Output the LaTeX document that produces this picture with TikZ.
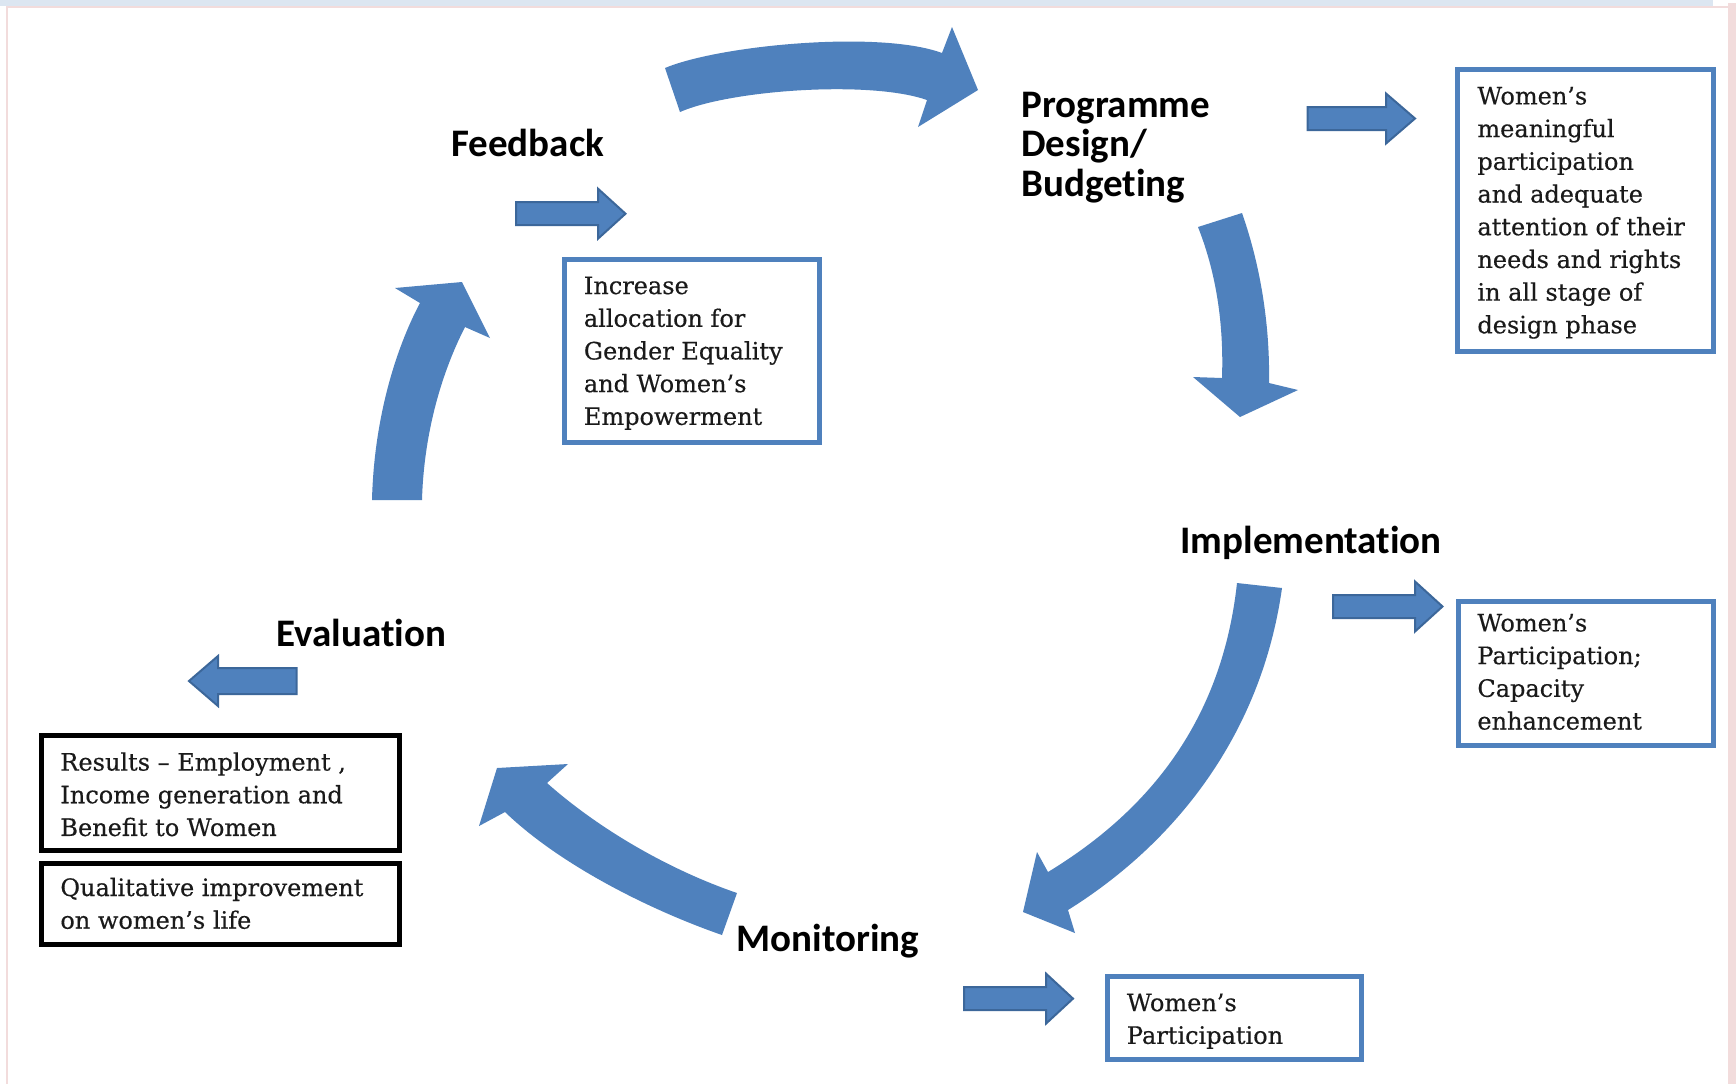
\documentclass[tikz,border=0pt]{standalone}
\usepackage{fontspec}
\setmainfont[FakeBold=0.4]{DejaVu Serif}
\newfontfamily\headfont[Ligatures=NoCommon]{Carlito}
\definecolor{arrowblue}{HTML}{4F81BD}
\definecolor{arrowedge}{HTML}{3C679A}
\definecolor{boxblue}{HTML}{4F81BD}
\definecolor{textdark}{HTML}{1A1A1A}
\definecolor{stripblue}{HTML}{DCE6F1}
\definecolor{framepink}{HTML}{F2DCDC}
% straight block arrows: tail x, tip x, head-base x, centre y
\newcommand\rightblock[4]{%
  \draw[blockarrow] (#1,#4-11.5) -- (#3,#4-11.5) -- (#3,#4-25) -- (#2,#4)
    -- (#3,#4+25) -- (#3,#4+11.5) -- (#1,#4+11.5) -- cycle;}
% tip x, tail x, head-base x, centre y
\newcommand\leftblock[4]{%
  \draw[blockarrow] (#2,#4-13) -- (#3,#4-13) -- (#3,#4-25) -- (#1,#4)
    -- (#3,#4+25) -- (#3,#4+13) -- (#2,#4+13) -- cycle;}
\begin{document}
\begin{tikzpicture}[x=0.5pt,y=-0.5pt,
  cyclearrow/.style={fill=arrowblue},
  blockarrow/.style={fill=arrowblue, draw=arrowedge, line width=1pt, line join=miter},
  bluebox/.style={rectangle, draw=boxblue, line width=2.5pt, fill=white, inner sep=0pt},
  blackbox/.style={rectangle, draw=black, line width=2.5pt, fill=white, inner sep=0pt},
  boxtext/.style={font=\fontsize{12pt}{16.35pt}\selectfont, align=left, inner sep=0pt, anchor=west, text=textdark},
  stage/.style={font=\headfont\bfseries\fontsize{19.5pt}{19.65pt}\selectfont, inner sep=0pt, align=left, text=black}
]
\useasboundingbox (0,0) rectangle (1736,1084);
% page frame
\fill[white] (0,0) rectangle (1736,1084);
\fill[stripblue] (0,0) rectangle (1713,6);
\fill[framepink] (6,6) rectangle (1736,8);
\fill[framepink] (6,6) rectangle (8,1084);
\fill[framepink] (1728,3) rectangle (1736,1084);

% stage labels
\node[stage, anchor=base west] (feedback) at (451,156) {Feedback};
\node[stage, anchor=west] (design) at (1021,147.5) {Programme\\Design/\\Budgeting};
\node[stage, anchor=base west] (implementation) at (1180,553) {Implementation};
\node[stage, anchor=base west] (evaluation) at (276,646) {Evaluation};
\node[stage, anchor=base west] (monitoring) at (736,951) {Monitoring};

% outcome boxes
\node[bluebox, minimum width=127.85pt, minimum height=140.85pt] (b1) at (1585.35,210.65) {};
\node[boxtext] (t1) at (1477,212.8) {Women’s\\meaningful\\participation\\and adequate\\attention of their\\needs and rights\\in all stage of\\design phase};
\node[bluebox, minimum width=127.5pt, minimum height=91.35pt] (b2) at (691.7,351.15) {};
\node[boxtext] (t2) at (583.5,353.2) {Increase\\allocation for\\Gender Equality\\and Women’s\\Empowerment};
\node[bluebox, minimum width=127.6pt, minimum height=72.25pt] (b3) at (1585.6,673.25) {};
\node[boxtext] (t3) at (1477,671.9) {Women’s\\Participation;\\Capacity\\enhancement};
\node[bluebox, minimum width=127.15pt, minimum height=41.65pt] (b4) at (1234.65,1018.15) {};
\node[boxtext] (t4) at (1126.5,1021.2) {Women’s\\Participation};
\node[blackbox, minimum width=178.85pt, minimum height=57.5pt] (b5) at (220.35,793.3) {};
\node[boxtext] (t5) at (60,794.3) {Results – Employment ,\\Income generation and\\Benefit to Women};
\node[blackbox, minimum width=178.85pt, minimum height=40.8pt] (b6) at (220.35,904) {};
\node[boxtext] (t6) at (60,903.4) {Qualitative improvement\\on women’s life};

% straight arrows towards the boxes
\rightblock{1307.5}{1415}{1386}{118.5}
\rightblock{516}{625.5}{598}{213.7}
\rightblock{1333}{1442.5}{1415}{606.5}
\leftblock{189}{296.7}{218}{681}
\rightblock{964}{1073}{1046}{998.6}

% curved cycle arrows
% feedback -> design
\fill[cyclearrow] (665,68) .. controls (720,45) and (880,30) .. (942,53)
  -- (952,27) -- (978,90) -- (918,127) -- (927,100)
  .. controls (870,80) and (730,90) .. (680,112) -- cycle;
% design -> implementation
\fill[cyclearrow] (1242,213) .. controls (1262,270) and (1270,330) .. (1269,383)
  -- (1298,390) -- (1240,417) -- (1193,377) -- (1222,378)
  .. controls (1224,320) and (1215,270) .. (1198,227) -- cycle;
% implementation -> monitoring
\fill[cyclearrow] (1282,588) .. controls (1262,730) and (1180,840) .. (1068,910)
  -- (1075,933) -- (1023,912) -- (1037,852) -- (1048,872)
  .. controls (1150,810) and (1222,720) .. (1237,583) -- cycle;
% monitoring -> evaluation
\fill[cyclearrow] (722,935) .. controls (650,910) and (560,865) .. (505,812)
  -- (479,826) -- (497,768) -- (568,764) -- (547,783)
  .. controls (600,830) and (670,870) .. (737,893) -- cycle;
% evaluation -> feedback
\fill[cyclearrow] (372,500) .. controls (374,420) and (395,350) .. (420,303)
  -- (395,288) -- (462,282) -- (490,338) -- (465,327)
  .. controls (443,370) and (424,430) .. (422,500) -- cycle;
\end{tikzpicture}
\end{document}
